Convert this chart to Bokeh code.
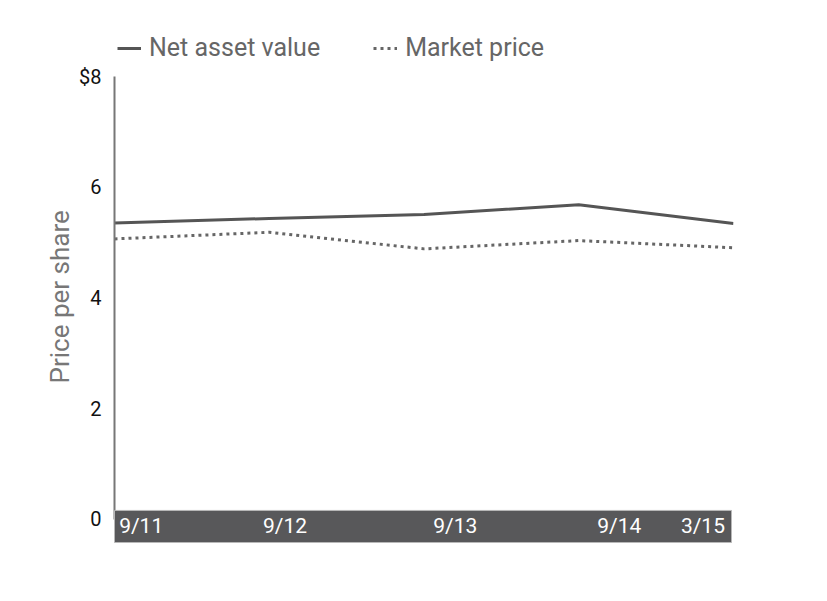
from bokeh.plotting import figure
from bokeh.models import Range1d, Legend, LegendItem, FixedTicker, Title
from bokeh.embed import file_html
from bokeh.resources import INLINE
from bokeh.core.properties import value

# ---- data ----
periods = ["9/11", "9/12", "9/13", "9/14", "3/15"]
nav = [5.36, 5.44, 5.51, 5.69, 5.35]
market = [5.07, 5.19, 4.89, 5.04, 4.91]
y_ticks = [0, 2, 4, 6, 8]
y_tick_labels = ["0", "2", "4", "6", "$8"]
y_title = "Price per share"

# ---- layout constants ----
x_idx = list(range(len(periods)))
label_x = [0.03, 0.96, 2.06, 3.12, 3.66]   # left edges of period labels inside band
band_bottom, band_top = -0.42, 0.16
FONT = "Roboto"

p = figure(width=800, height=585, output_backend="svg", toolbar_location=None,
           x_range=Range1d(0, 4), y_range=Range1d(band_bottom, 9.02),
           min_border_left=114, min_border_right=67, min_border_top=20,
           min_border_bottom=43)
p.outline_line_color = None
p.grid.visible = False
p.xaxis.visible = False
p.background_fill_color = "white"
p.border_fill_color = "white"

nav_r = p.line(x_idx, nav, line_color="#555555", line_width=3)
mkt_r = p.line(x_idx, market, line_color="#666666", line_width=3, line_dash="3 4")

# dark band with period labels
p.quad(left=0, right=3.987, bottom=band_bottom, top=band_top,
       fill_color="#58585a", line_color="#b8b8b8", line_width=1, level="overlay")
p.text(x=label_x, y=[-0.13] * len(periods), text=periods, text_color="white",
       text_font=value(FONT), text_font_size="21px", text_baseline="middle",
       text_align="left", level="overlay")

ya = p.yaxis[0]
ya.ticker = FixedTicker(ticks=y_ticks)
ya.major_label_overrides = {t: l for t, l in zip(y_ticks, y_tick_labels)}
ya.major_tick_line_color = None
ya.minor_tick_line_color = None
ya.axis_line_color = "#777777"
ya.axis_line_width = 2
ya.bounds = (0, 8)
ya.major_label_text_font = FONT
ya.major_label_text_font_size = "20px"
ya.major_label_text_color = "#111111"
ya.major_label_standoff = 7

# y-axis title as a left-panel title, shifted to centre on the 0..8 span
p.add_layout(Title(text=y_title, align="left", offset=159, standoff=4,
                   text_font=FONT, text_font_size="26px", text_font_style="normal",
                   text_color="#777777"), "left")

legend = Legend(items=[LegendItem(label="Net asset value", renderers=[nav_r]),
                       LegendItem(label="Market price", renderers=[mkt_r])],
                orientation="horizontal", location=(3, 480),
                label_text_font=FONT, label_text_font_size="25px",
                label_text_color="#666666", glyph_width=24, glyph_height=20,
                label_standoff=8, spacing=53, padding=2, margin=0,
                border_line_color=None, background_fill_alpha=0)
p.add_layout(legend)

open("out.html", "w").write(file_html(p, INLINE))
